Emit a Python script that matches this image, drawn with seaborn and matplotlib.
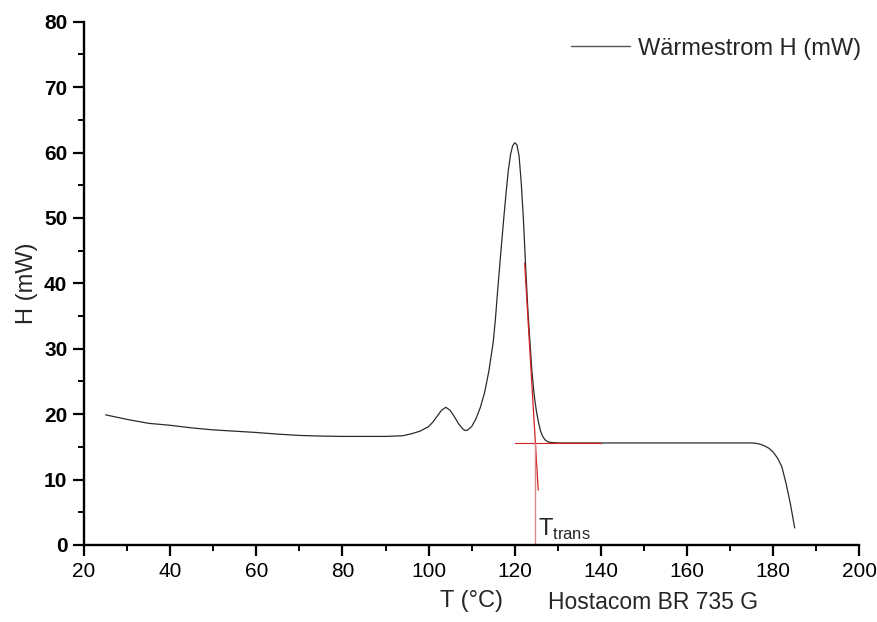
import matplotlib
matplotlib.use("Agg")
import matplotlib.pyplot as plt
import seaborn as sns
import pandas as pd
from matplotlib.ticker import MultipleLocator

# DSC heat-flow trace of Hostacom BR 735 G
temperature = [25, 30, 35, 40, 45, 50, 55, 60, 65, 70, 75, 80, 85, 90, 94, 96, 98,
               100, 101, 102, 103, 104, 105, 106, 107, 108, 108.5, 109, 110, 111,
               112, 113, 114, 115, 115.5, 116, 116.5, 117, 117.5, 118, 118.5, 119,
               119.5, 120, 120.5, 121, 121.5, 122, 122.5, 123, 123.5, 124, 124.5,
               125, 125.5, 126, 126.5, 127, 127.5, 128, 129, 130, 140, 150, 160,
               170, 175, 176, 177, 178, 179, 180, 181, 182, 183, 184, 185]
heat_flow = [19.9, 19.2, 18.6, 18.3, 17.9, 17.6, 17.4, 17.2, 16.95, 16.75, 16.65,
             16.6, 16.6, 16.6, 16.7, 17.0, 17.4, 18.1, 18.8, 19.7, 20.6, 21.05,
             20.6, 19.6, 18.5, 17.7, 17.5, 17.55, 18.1, 19.3, 21.0, 23.3, 26.6,
             31.0, 34.4, 38.6, 42.6, 46.5, 50.3, 53.9, 57.2, 59.6, 61.0, 61.5,
             61.2, 59.5, 55.5, 50.0, 43.0, 36.5, 31.3, 26.5, 23.0, 20.6, 18.8,
             17.4, 16.6, 16.1, 15.85, 15.7, 15.65, 15.6, 15.6, 15.6, 15.6, 15.6,
             15.6, 15.55, 15.4, 15.15, 14.8, 14.2, 13.3, 12.0, 9.4, 6.3, 2.6]

# onset construction: tangent on falling flank, baseline, transition temperature
tangent_T = [122.3, 125.45]
tangent_H = [43.1, 8.4]
baseline_T = [120.0, 140.0]
baseline_H = [15.55, 15.55]
T_trans = 124.8

df = pd.DataFrame({"T": temperature, "H": heat_flow})

sns.set_theme(style="ticks")
plt.rcParams["font.family"] = ["Liberation Sans", "DejaVu Sans"]
plt.rcParams["mathtext.fontset"] = "custom"
plt.rcParams["mathtext.rm"] = "Liberation Sans"

fig = plt.figure(figsize=(8.78, 6.22), dpi=100)
ax = fig.add_axes([0.0957, 0.1238, 0.883, 0.8413])

sns.lineplot(data=df, x="T", y="H", ax=ax, color="#2b2b2b", linewidth=0.9,
             label="Wärmestrom H (mW)")
sns.lineplot(x=baseline_T, y=baseline_H, ax=ax, color="#d42020", linewidth=0.8,
             legend=False)
sns.lineplot(x=tangent_T, y=tangent_H, ax=ax, color="#d42020", linewidth=0.9,
             legend=False)
ax.plot([T_trans, T_trans], [0, baseline_H[0]], color="#d98a8a", linewidth=1.0)

ax.set_xlim(20, 200)
ax.set_ylim(0, 80)
ax.xaxis.set_major_locator(MultipleLocator(20))
ax.xaxis.set_minor_locator(MultipleLocator(10))
ax.yaxis.set_major_locator(MultipleLocator(10))
ax.yaxis.set_minor_locator(MultipleLocator(5))

for side in ("top", "right"):
    ax.spines[side].set_visible(False)
for side in ("left", "bottom"):
    ax.spines[side].set_linewidth(1.7)
    ax.spines[side].set_color("black")

ax.tick_params(which="major", direction="out", length=8, width=1.6,
               colors="black", pad=4)
ax.tick_params(axis="x", which="major", labelsize=15)
ax.tick_params(axis="y", which="major", labelsize=15)
ax.tick_params(which="minor", direction="out", length=4.5, width=1.4,
               colors="black")
for lbl in ax.get_yticklabels():
    lbl.set_fontweight("bold")

ax.set_xlabel("")
ax.set_ylabel("H (mW)", fontsize=17, labelpad=4)

fig.text(0.537, 0.033, "T (°C)", fontsize=17, ha="center", va="center")
fig.text(0.624, 0.031, "Hostacom BR 735 G", fontsize=16.5, ha="left", va="center")

ax.text(T_trans + 0.5, 0.5, r"$\mathrm{T}_{\mathrm{trans}}$", fontsize=17,
        ha="left", va="bottom")

leg = ax.legend(loc="upper right", bbox_to_anchor=(1.03, 1.01), frameon=False,
                fontsize=17, handlelength=2.5, handletextpad=0.35)
for line in leg.get_lines():
    line.set_linewidth(1.0)
    line.set_color("#555555")

fig.savefig("out.png", dpi=100, facecolor="white")
